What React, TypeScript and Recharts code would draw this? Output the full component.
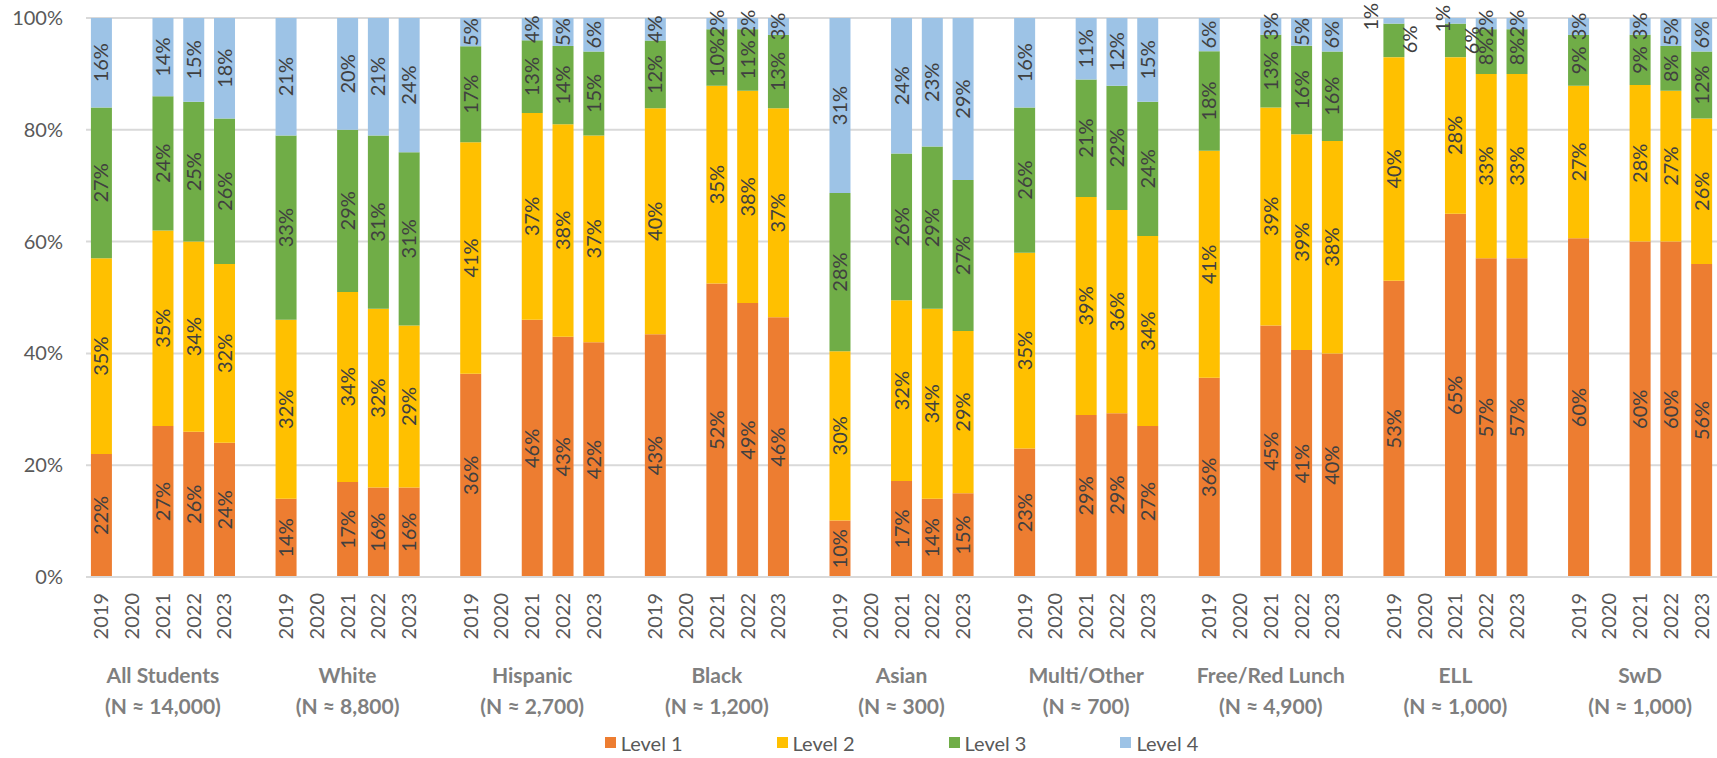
import React from "react";
import { BarChart, Bar, XAxis, YAxis, CartesianGrid, Legend, LabelList } from "recharts";

const groupNames = ["All Students", "White", "Hispanic", "Black", "Asian", "Multi/Other", "Free/Red Lunch", "ELL", "SwD"];
const groupCounts = ["(N ≈ 14,000)", "(N ≈ 8,800)", "(N ≈ 2,700)", "(N ≈ 1,200)", "(N ≈ 300)", "(N ≈ 700)", "(N ≈ 4,900)", "(N ≈ 1,000)", "(N ≈ 1,000)"];
const years = ["2019", "2020", "2021", "2022", "2023"];
const yTicks = [0, 20, 40, 60, 80, 100];
const levelNames = ["Level 1", "Level 2", "Level 3", "Level 4"];

const level1 = [
  [22, null, 27, 26, 24],
  [14, null, 17, 16, 16],
  [36, null, 46, 43, 42],
  [43, null, 52, 49, 46],
  [10, null, 17, 14, 15],
  [23, null, 29, 29, 27],
  [36, null, 45, 41, 40],
  [53, null, 65, 57, 57],
  [60, null, 60, 60, 56],
];
const level2 = [
  [35, null, 35, 34, 32],
  [32, null, 34, 32, 29],
  [41, null, 37, 38, 37],
  [40, null, 35, 38, 37],
  [30, null, 32, 34, 29],
  [35, null, 39, 36, 34],
  [41, null, 39, 39, 38],
  [40, null, 28, 33, 33],
  [27, null, 28, 27, 26],
];
const level3 = [
  [27, null, 24, 25, 26],
  [33, null, 29, 31, 31],
  [17, null, 13, 14, 15],
  [12, null, 10, 11, 13],
  [28, null, 26, 29, 27],
  [26, null, 21, 22, 24],
  [18, null, 13, 16, 16],
  [6, null, 6, 8, 8],
  [9, null, 9, 8, 12],
];
const level4 = [
  [16, null, 14, 15, 18],
  [21, null, 20, 21, 24],
  [5, null, 4, 5, 6],
  [4, null, 2, 2, 3],
  [31, null, 24, 23, 29],
  [16, null, 11, 12, 15],
  [6, null, 3, 5, 6],
  [1, null, 1, 2, 2],
  [3, null, 3, 5, 6],
];

// styling
const COLORS = ["#ED7D31", "#FFC000", "#70AD47", "#9DC3E6"];
const FONT = "Lato, 'Open Sans', sans-serif";
const LABEL_NUDGE: Record<string, [number, number]> = {
  "7-0-4": [-23, -4],
  "7-0-3": [16, -1],
  "7-2-4": [-12, -2],
  "7-2-3": [17, 0],
};

type Row = any;
const rows: Row[] = [];
groupNames.forEach((g, gi) => {
  years.forEach((yr, yi) => {
    const raw = [level1[gi][yi], level2[gi][yi], level3[gi][yi], level4[gi][yi]];
    const row: Row = { idx: rows.length, year: yr, gi, yi };
    if (raw[0] != null) {
      const sum = (raw as number[]).reduce((a, b) => a + b, 0);
      raw.forEach((v, li) => {
        row["v" + (li + 1)] = ((v as number) * 100) / sum;
        row["r" + (li + 1)] = v;
      });
    }
    rows.push(row);
  });
  if (gi < groupNames.length - 1) rows.push({ idx: rows.length, year: "", gi: -1, yi: -1 });
});

const makeLabel = (level: number) => (props: any) => {
  const vb = props.viewBox || props;
  const { x, y, width, height } = vb;
  const row = rows[props.value];
  if (!row || row["r" + level] == null) return null;
  const val = row["r" + level];
  const nudge = LABEL_NUDGE[`${row.gi}-${row.yi}-${level}`] || [0, 0];
  const cx = x + width / 2 + nudge[0];
  const cy = y + height / 2 + nudge[1];
  return (
    <text
      transform={`translate(${cx},${cy}) rotate(-90)`}
      textAnchor="middle"
      dy="0.35em"
      fill="#404040"
      fontSize={20}
      fontFamily={FONT}
    >
      {val}%
    </text>
  );
};

const XTick = (props: any) => {
  const { x, y, payload } = props;
  const row = rows[payload.value];
  if (!row) return null;
  return (
    <g>
      {row.year && (
        <text
          transform={`translate(${x},${y + 16}) rotate(-90)`}
          textAnchor="end"
          dy="0.35em"
          fill="#595959"
          fontSize={20}
          fontFamily={FONT}
        >
          {row.year}
        </text>
      )}
      {row.yi === 2 && (
        <>
          <text x={x} y={y + 106} textAnchor="middle" fill="#7F7F7F" fontSize={21} fontWeight={700} fontFamily={FONT}>
            {groupNames[row.gi]}
          </text>
          <text x={x} y={y + 137} textAnchor="middle" fill="#7F7F7F" fontSize={21} fontWeight={700} fontFamily={FONT}>
            {groupCounts[row.gi]}
          </text>
        </>
      )}
    </g>
  );
};

const YTick = (props: any) => {
  const { x, y, payload } = props;
  return (
    <text x={x} y={y} dy="0.35em" textAnchor="end" fill="#595959" fontSize={20} fontFamily={FONT}>
      {payload.value}%
    </text>
  );
};

const renderLegend = () => (
  <div
    style={{
      display: "flex",
      justifyContent: "center",
      alignItems: "center",
      height: 31,
      paddingLeft: 86,
      fontFamily: FONT,
      fontSize: 20,
      color: "#595959",
    }}
  >
    {levelNames.map((n, i) => (
      <div key={n} style={{ display: "flex", alignItems: "center", marginRight: i < 3 ? 94 : 0 }}>
        <div style={{ width: 11, height: 11, background: COLORS[i], marginRight: 5 }} />
        <span>{n}</span>
      </div>
    ))}
  </div>
);

export default function App() {
  return (
    <div style={{ position: "absolute", left: 0, top: 0, width: 1717, height: 758, overflow: "hidden", background: "#fff" }}>
      <BarChart
        width={1717}
        height={758}
        data={rows}
        margin={{ top: 18, right: 0, left: 0, bottom: 0 }}
        barCategoryGap="16%"
        style={{ fontFamily: FONT }}
      >
        <CartesianGrid vertical={false} stroke="#D9D9D9" strokeWidth={2} />
        <XAxis
          dataKey="idx"
          type="category"
          interval={0}
          tickLine={false}
          tickSize={0}
          tickMargin={0}
          axisLine={{ stroke: "#D9D9D9", strokeWidth: 2 }}
          height={150}
          tick={<XTick />}
        />
        <YAxis
          domain={[0, 100]}
          ticks={yTicks}
          width={86}
          axisLine={false}
          tickLine={false}
          tickSize={0}
          tickMargin={23}
          tick={<YTick />}
        />
        <Legend verticalAlign="bottom" height={31} content={renderLegend} />
        {[1, 2, 3, 4].map((l) => (
          <Bar key={l} dataKey={"v" + l} name={levelNames[l - 1]} stackId="a" fill={COLORS[l - 1]} isAnimationActive={false}>
            <LabelList dataKey={(r: any) => r.idx} content={makeLabel(l)} />
          </Bar>
        ))}
      </BarChart>
    </div>
  );
}
